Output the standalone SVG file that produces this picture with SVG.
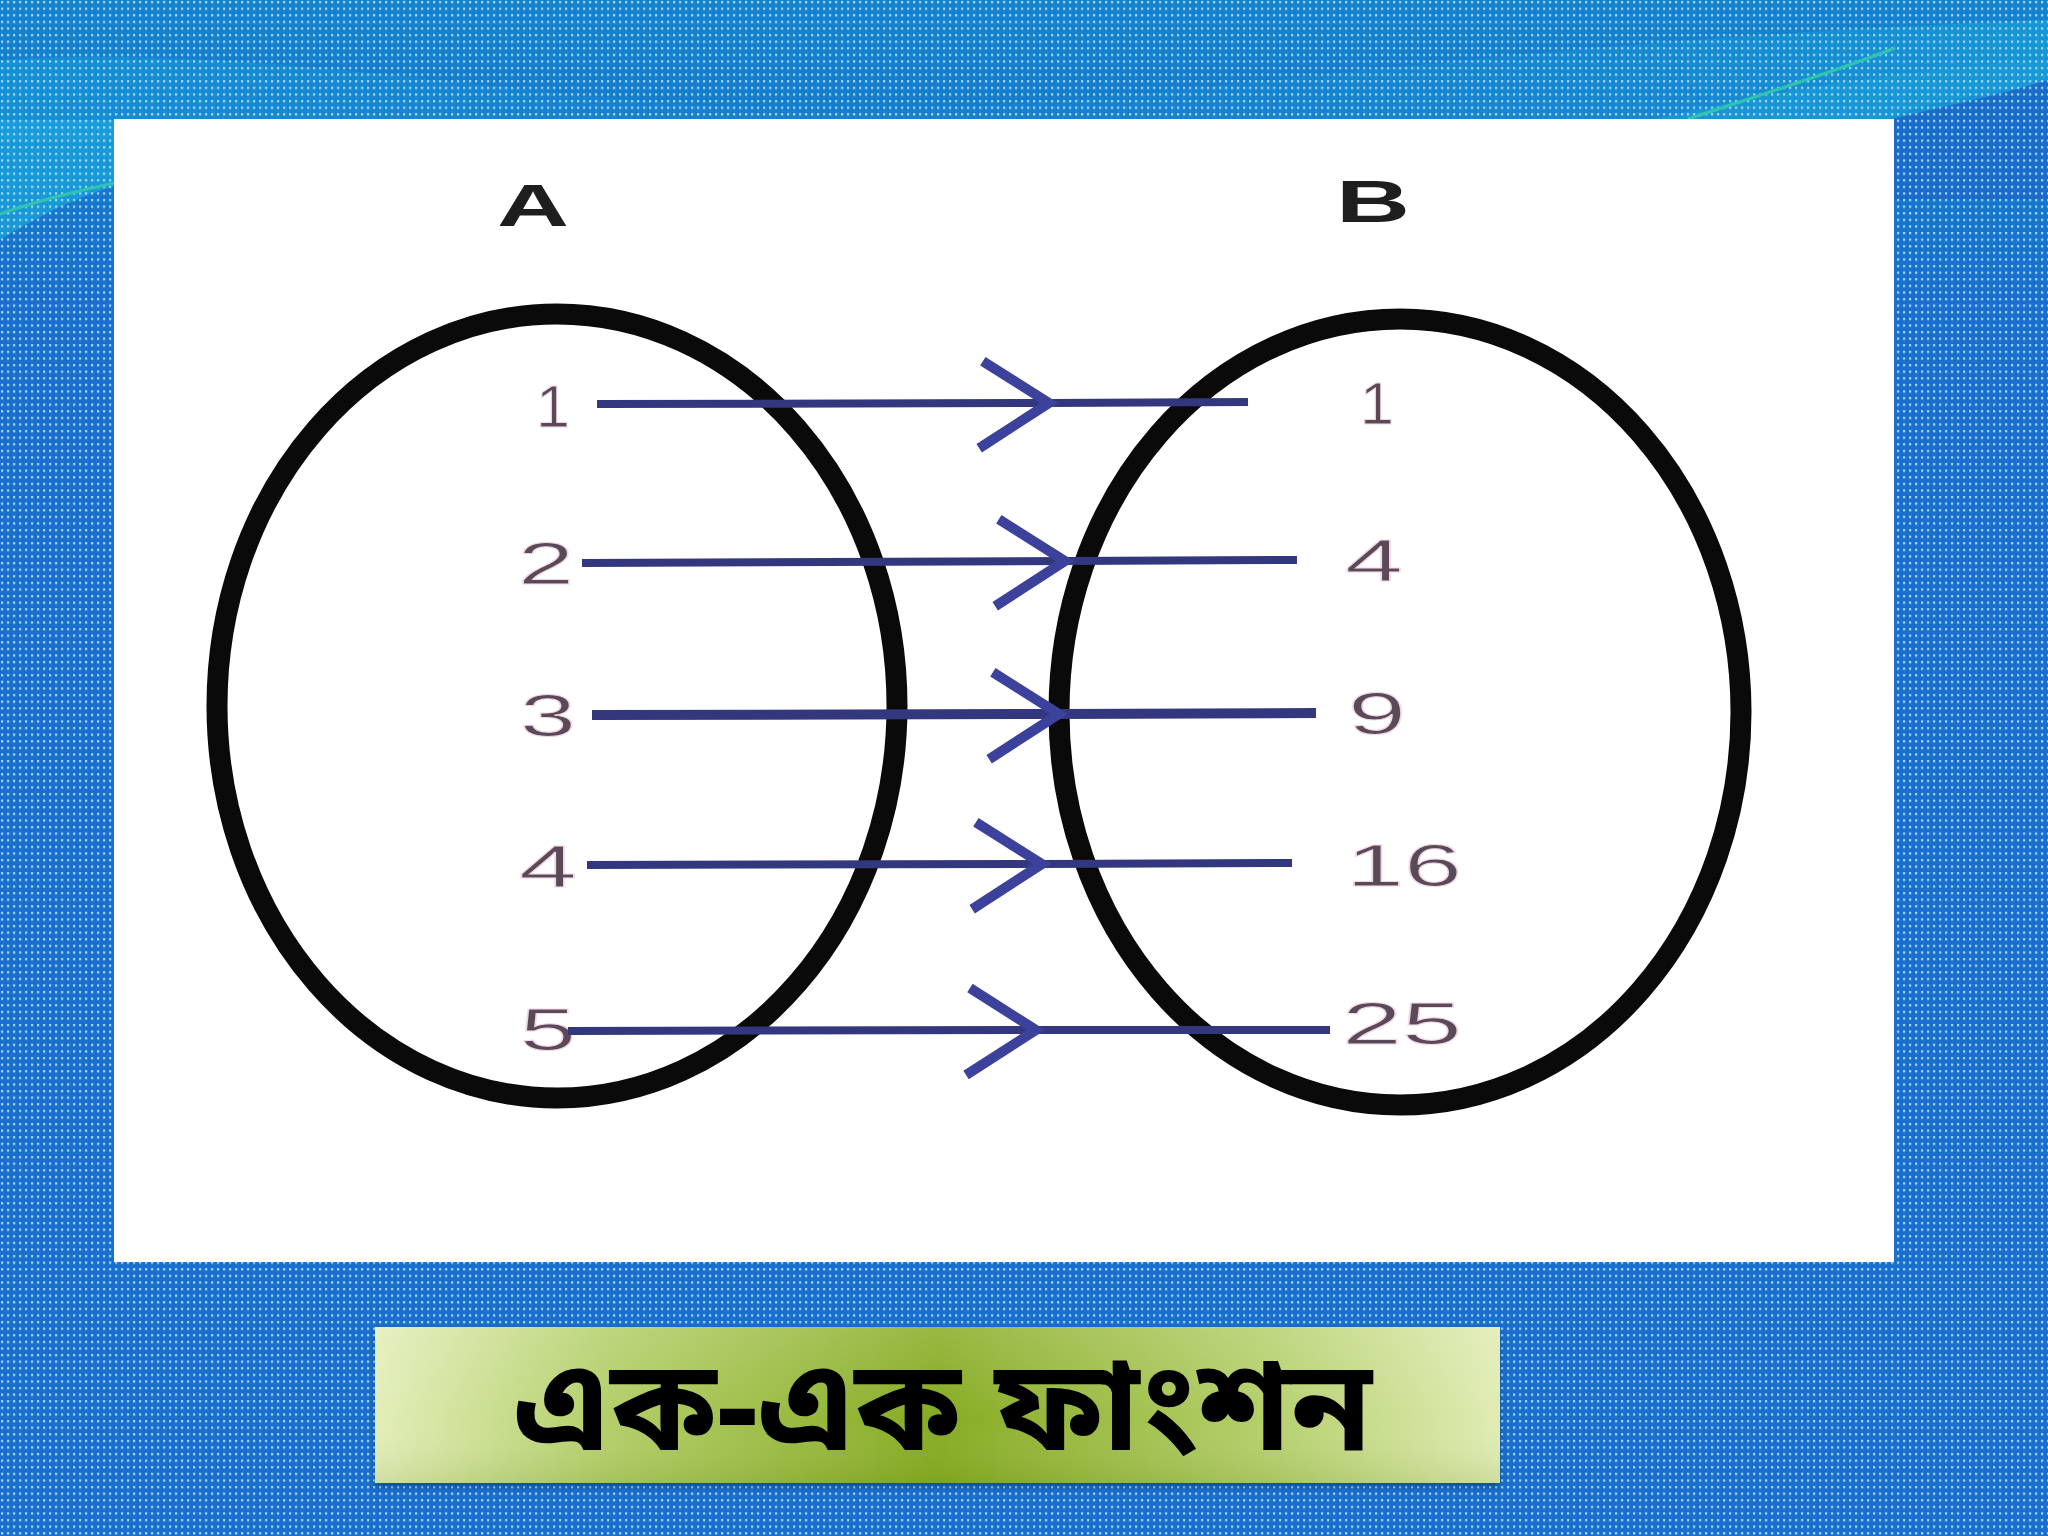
<svg xmlns="http://www.w3.org/2000/svg" width="2048" height="1536" viewBox="0 0 2048 1536">
<style>
.ell{fill:none;stroke:#0a0a0a;stroke-width:21}
.con{fill:none;stroke:#33387e;stroke-width:8;marker-mid:url(#chev)}
.num{font-family:"Liberation Sans",Arial,sans-serif;font-size:60px;fill:#5a4a58;text-anchor:middle;stroke:#f3d6e6;stroke-width:1}
.set{font-family:"Liberation Sans",Arial,sans-serif;font-size:60px;font-weight:bold;fill:#1e1e1e;text-anchor:middle}
.title{font-family:"Noto Sans Bengali","Noto Serif Bengali","Lohit Bengali","Noto Sans",sans-serif;font-size:126px;font-weight:bold;fill:#000;text-anchor:middle}
</style>
<defs>
<pattern id="dots" width="6" height="6.6" patternUnits="userSpaceOnUse">
<rect x="1" y="1" width="2.2" height="2.2" fill="#a6dcff"/>
</pattern>
<linearGradient id="bg" x1="0" y1="0" x2="0" y2="1">
<stop offset="0" stop-color="#1682cc"/>
<stop offset="0.12" stop-color="#1678cc"/>
<stop offset="0.2" stop-color="#1b6ecb"/>
<stop offset="1" stop-color="#1b6ecb"/>
</linearGradient>
<linearGradient id="wave" x1="0" y1="0" x2="1" y2="0">
<stop offset="0" stop-color="#16a0dc" stop-opacity="0.9"/>
<stop offset="0.4" stop-color="#1a86d2" stop-opacity="0.4"/>
<stop offset="0.8" stop-color="#1a9ad8" stop-opacity="0.6"/>
<stop offset="1" stop-color="#18a8dc" stop-opacity="0.9"/>
</linearGradient>
<linearGradient id="box" x1="0" y1="0" x2="1" y2="0">
<stop offset="0" stop-color="#e2eeb8"/>
<stop offset="0.2" stop-color="#b4cf6a"/>
<stop offset="0.5" stop-color="#86ab22"/>
<stop offset="0.8" stop-color="#b6d06e"/>
<stop offset="1" stop-color="#e0ecb4"/>
</linearGradient>
<linearGradient id="boxv" x1="0" y1="0" x2="0" y2="1">
<stop offset="0" stop-color="#ffffff" stop-opacity="0.15"/>
<stop offset="0.6" stop-color="#ffffff" stop-opacity="0"/>
<stop offset="1" stop-color="#4a6a00" stop-opacity="0.12"/>
</linearGradient>
<marker id="chev" markerUnits="userSpaceOnUse" markerWidth="10" markerHeight="10" refX="0" refY="0" orient="auto" overflow="visible">
<path d="M-66,-42 L0,0 L-70,45" fill="none" stroke="#3c429c" stroke-width="10"/>
</marker>
<filter id="sh" x="-5%" y="-10%" width="110%" height="130%">
<feDropShadow dx="0" dy="4" stdDeviation="3" flood-color="#003060" flood-opacity="0.5"/>
</filter>
</defs>

<g id="background">
<rect x="0" y="0" width="2048" height="1536" fill="url(#bg)"/>
<path d="M0,60 C300,40 600,120 900,110 C1200,100 1500,40 2048,20 L2048,150 C1800,140 1650,150 1500,140 L0,140 Z" fill="url(#wave)" opacity="0.6"/>
<path d="M0,120 L0,240 C40,215 80,195 120,185 L120,120 Z" fill="#1aa0da" opacity="0.8"/>
<path d="M1650,120 C1780,90 1900,70 2048,60 L2048,85 C1960,95 1900,110 1890,120 Z" fill="#1b9ad6" opacity="0.7"/>
<path d="M1890,120 C1950,105 2000,95 2048,80 L2048,200 L1890,200 Z" fill="#1a6cc8"/>
<rect x="0" y="0" width="2048" height="1536" fill="url(#dots)"/>
<path d="M0,214 C40,200 80,190 120,182" fill="none" stroke="#2ec4b0" stroke-width="3"/>
<path d="M1688,119 C1760,95 1840,70 1895,48" fill="none" stroke="#2ec4b0" stroke-width="3"/>
</g>

<g id="panel">
<rect x="114" y="119" width="1780" height="1143" fill="#ffffff"/>
</g>

<g id="setA">
<text class="set" x="533" y="226" textLength="72" lengthAdjust="spacingAndGlyphs">A</text>
<ellipse class="ell" cx="557" cy="706" rx="340" ry="392"/>
<text class="num" x="553" y="427" textLength="34" lengthAdjust="spacingAndGlyphs">1</text>
<text class="num" x="546" y="584" textLength="56" lengthAdjust="spacingAndGlyphs">2</text>
<text class="num" x="548" y="736" textLength="56" lengthAdjust="spacingAndGlyphs">3</text>
<text class="num" x="548" y="887" textLength="58" lengthAdjust="spacingAndGlyphs">4</text>
<text class="num" x="548" y="1050" textLength="56" lengthAdjust="spacingAndGlyphs">5</text>
</g>

<g id="setB">
<text class="set" x="1373" y="222" textLength="74" lengthAdjust="spacingAndGlyphs">B</text>
<ellipse class="ell" cx="1400" cy="712" rx="341" ry="393"/>
<text class="num" x="1377" y="424" textLength="34" lengthAdjust="spacingAndGlyphs">1</text>
<text class="num" x="1374" y="581" textLength="58" lengthAdjust="spacingAndGlyphs">4</text>
<text class="num" x="1377" y="734" textLength="58" lengthAdjust="spacingAndGlyphs">9</text>
<text class="num" x="1404" y="886" textLength="116" lengthAdjust="spacingAndGlyphs">16</text>
<text class="num" x="1402" y="1044" textLength="120" lengthAdjust="spacingAndGlyphs">25</text>
</g>

<g id="connectors">
<path class="con" d="M597,404 L1049,403 L1248,402"/>
<path class="con" d="M582,563 L1065,561 L1297,560"/>
<path class="con" d="M592,715 L1059,714 L1316,713" style="stroke-width:10"/>
<path class="con" d="M587,865 L1042,864 L1292,863"/>
<path class="con" d="M568,1031 L1036,1030 L1330,1030"/>
</g>

<g id="title">
<rect x="375" y="1327" width="1125" height="156" fill="url(#box)" filter="url(#sh)"/>
<rect x="375" y="1327" width="1125" height="156" fill="url(#boxv)"/>
<text class="title" x="943" y="1450" textLength="858" lengthAdjust="spacingAndGlyphs">এক-এক ফাংশন</text>
</g>
</svg>
